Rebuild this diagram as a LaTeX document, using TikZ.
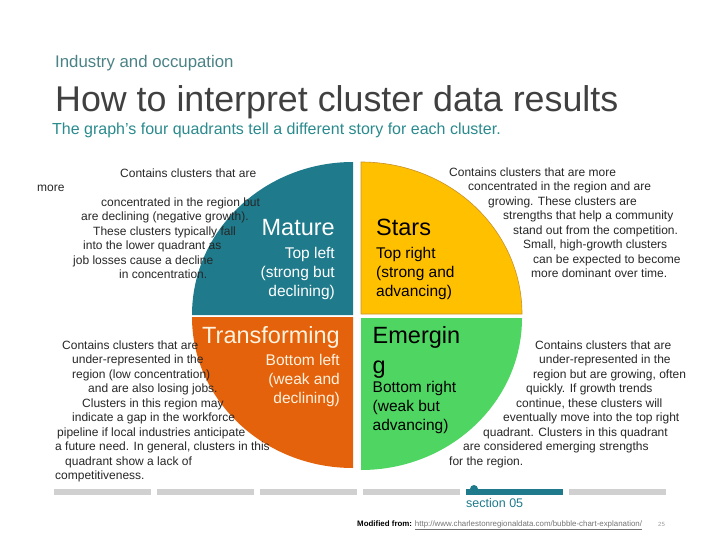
\documentclass[tikz,border=0pt]{standalone}
\usepackage{fontspec}
\setmainfont{Liberation Sans}
\usepackage{xcolor}
\usetikzlibrary{positioning}
\definecolor{matteal}{HTML}{1F7A8B}
\definecolor{stayellow}{HTML}{FFC000}
\definecolor{staedge}{HTML}{C8912A}
\definecolor{traorange}{HTML}{E3620B}
\definecolor{tracream}{HTML}{FFF2DF}
\definecolor{emegreen}{HTML}{4FD562}
\definecolor{hdrteal}{HTML}{4A8286}
\definecolor{subteal}{HTML}{2A8A8D}
\definecolor{ttlgrey}{HTML}{404040}
\definecolor{bargrey}{HTML}{D0D0D0}
\definecolor{descgrey}{HTML}{262626}

\begin{document}
\begin{tikzpicture}[
  x=1pt, y=-1pt,
  txt/.style={inner sep=0pt, anchor=base west},
  desc/.style={inner sep=0pt, align=left, anchor=north west, text=descgrey,
               font=\fontsize{12}{14.5}\selectfont},
  qtitle/.style={inner sep=0pt, font=\fontsize{23.5}{29}\selectfont},
  qsub/.style={inner sep=0pt, font=\fontsize{15.5}{19}\selectfont},
]
\useasboundingbox (0,0) rectangle (720,540);

\node[txt, text=hdrteal, font=\fontsize{16.8}{20}\selectfont] (hdr) at (55,68)
  {Industry and occupation};
\node[txt, text=ttlgrey, font=\fontsize{35.8}{40}\selectfont] (ttl) at (55,112)
  {How to interpret cluster data results};
\node[txt, text=subteal, font=\fontsize{16}{19}\selectfont] (sub) at (52,135)
  {The graph's four quadrants tell a different story for each cluster.};

\fill[matteal] (353,315) -- (192,315)
  arc[start angle=180, end angle=270, x radius=161, y radius=153] -- cycle;
\filldraw[fill=stayellow, draw=staedge, line width=0.6pt] (361,314) -- (361,162)
  arc[start angle=270, end angle=360, x radius=161, y radius=152] -- cycle;
\fill[traorange] (353,317) -- (192,317)
  arc[start angle=180, end angle=90, x radius=161, y radius=151] -- cycle;
\fill[emegreen] (361,318) -- (522,318)
  arc[start angle=0, end angle=90, x radius=161, y radius=152] -- cycle;

\node[qtitle, anchor=base east, text=white] (mat) at (335,236) {Mature};
\node[qsub, below=11pt of mat.base east, anchor=north east, align=right, text=white]
  (matsub) {Top left\\(strong but\\declining)};
\node[qtitle, anchor=base west, text=black] (sta) at (376,236) {Stars};
\node[qsub, below=11pt of sta.base west, anchor=north west, align=left, text=black]
  (stasub) {Top right\\(strong and\\advancing)};
\node[qtitle, anchor=base east, text=tracream] (tra) at (340,343.5) {Transforming};
\node[qsub, below=11pt of tra.base east, anchor=north east, align=right, text=tracream]
  (trasub) {Bottom left\\(weak and\\declining)};
\node[qtitle, anchor=north west, align=left, text=black, font=\fontsize{23.5}{30}\selectfont]
  (eme) at (372.5,326.5) {Emergin\\g};
\node[qsub, below=2.5pt of eme.south west, anchor=north west, align=left, text=black]
  (emesub) {Bottom right\\(weak but\\advancing)};

\node[desc] (dtl) at (37,168.4)
  {\hspace*{83pt}Contains clusters that are\\
   more\\
   \hspace*{64pt}concentrated in the region but\\
   \hspace*{44pt}are declining (negative growth).\\
   \hspace*{56pt}These clusters typically fall\\
   \hspace*{46pt}into the lower quadrant as\\
   \hspace*{36pt}job losses cause a decline\\
   \hspace*{82pt}in concentration.};
\node[desc] (dtr) at (449,167.4)
  {Contains clusters that are more\\
   \hspace*{19pt}concentrated in the region and are\\
   \hspace*{39pt}growing. These clusters are\\
   \hspace*{54pt}strengths that help a community\\
   \hspace*{64pt}stand out from the competition.\\
   \hspace*{74pt}Small, high-growth clusters\\
   \hspace*{84pt}can be expected to become\\
   \hspace*{82pt}more dominant over time.};
\node[desc] (dbl) at (55,340.4)
  {\hspace*{7pt}Contains clusters that are\\
   \hspace*{17pt}under-represented in the\\
   \hspace*{17pt}region (low concentration)\\
   \hspace*{33pt}and are also losing jobs.\\
   \hspace*{27pt}Clusters in this region may\\
   \hspace*{17pt}indicate a gap in the workforce\\
   \hspace*{2pt}pipeline if local industries anticipate\\
   a future need. In general, clusters in this\\
   \hspace*{10pt}quadrant show a lack of\\
   competitiveness.};
\node[desc] (dbr) at (449,340.4)
  {\hspace*{86pt}Contains clusters that are\\
   \hspace*{90pt}under-represented in the\\
   \hspace*{84pt}region but are growing, often\\
   \hspace*{77pt}quickly. If growth trends\\
   \hspace*{67pt}continue, these clusters will\\
   \hspace*{54pt}eventually move into the top right\\
   \hspace*{34pt}quadrant. Clusters in this quadrant\\
   \hspace*{14pt}are considered emerging strengths\\
   for the region.};

\foreach \i in {0,1,2,3,5}
  \fill[bargrey] (54+103*\i,489) rectangle ++(97,6);
\fill[matteal] (466,489) rectangle ++(97,6);
\fill[matteal] (470,489) arc[start angle=180, end angle=360, radius=4] -- cycle;
\node[txt, text=matteal, font=\fontsize{12.5}{15}\selectfont] (sec) at (466,507) {section 05};

\node[txt, font=\fontsize{7.9}{9}\selectfont] (src) at (357,526)
  {\textbf{Modified from:} \textcolor{black!55}{\underline{http://www.charlestonregionaldata.com/bubble-chart-explanation/}}};
\node[txt, text=black!40, font=\fontsize{6}{7}\selectfont] (pg) at (658,526) {25};
\end{tikzpicture}
\end{document}
